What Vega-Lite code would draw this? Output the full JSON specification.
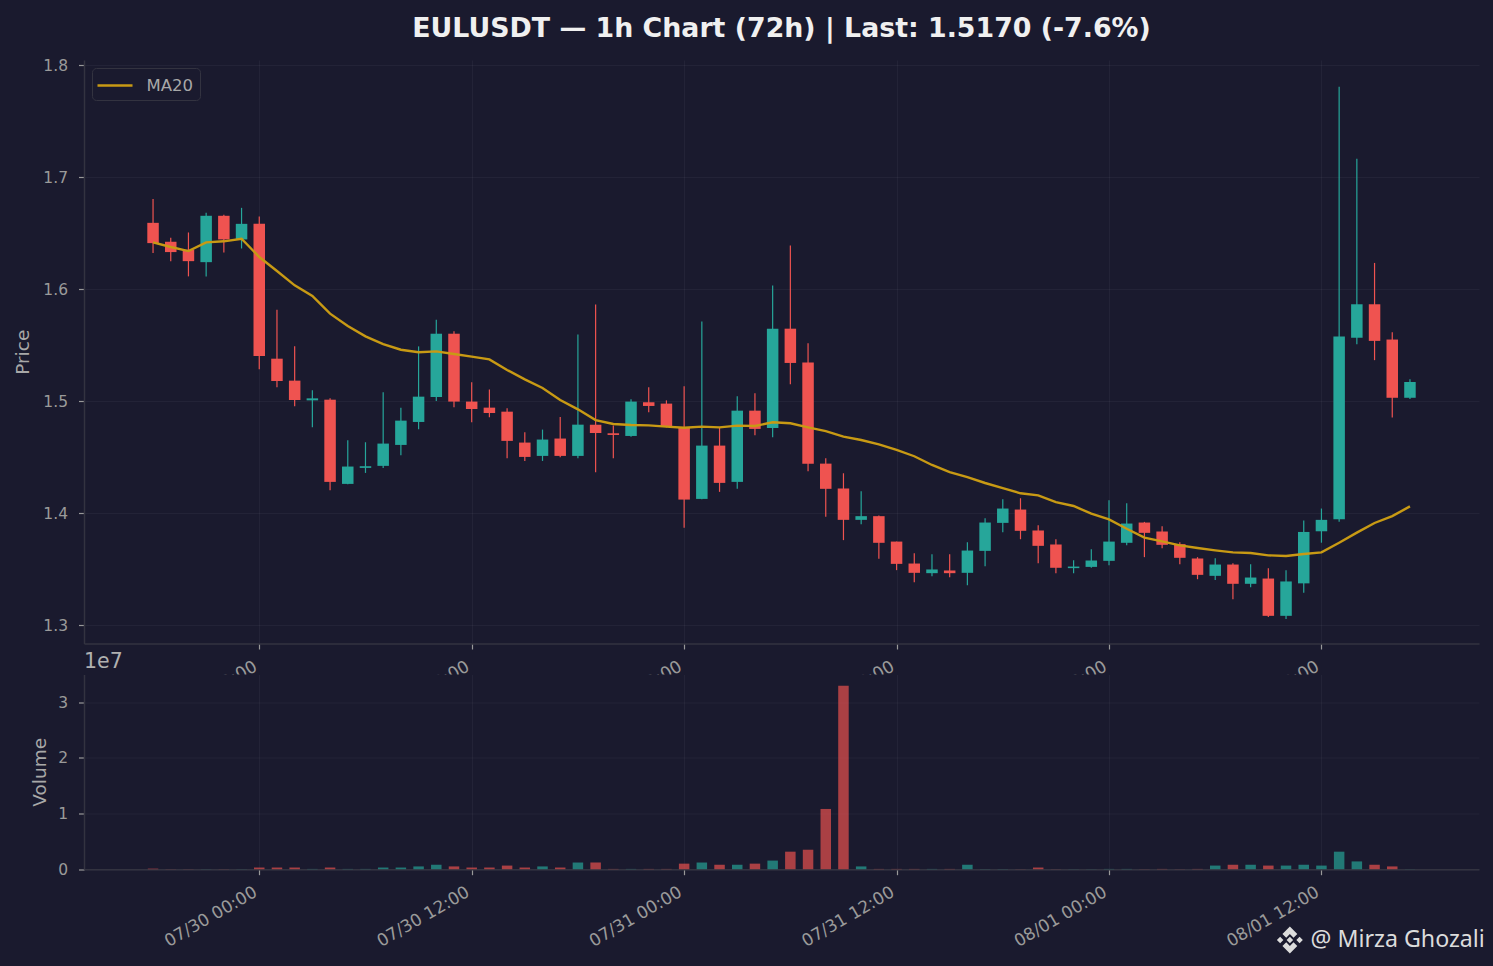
{"$schema":"https://vega.github.io/schema/vega-lite/v6.json","background":"#1a1a2e","padding":{"left":13,"top":16,"right":8,"bottom":14},"bounds":"flush","spacing":30.5,"config":{"font":"DejaVu Sans","view":{"stroke":null},"axis":{"gridColor":"#ffffff","gridOpacity":0.045,"gridWidth":1,"domainColor":"#333340","domainWidth":1.5,"tickColor":"#999999","tickSize":5.5,"tickWidth":1.2,"labelColor":"#9a9a9a","labelFontSize":15.5,"titleColor":"#a8a8a8","titleFontSize":18.5,"titleFontWeight":"normal"}},"title":{"text":"EULUSDT — 1h Chart (72h) | Last: 1.5170 (-7.6%)","fontSize":26.8,"fontWeight":"bold","color":"#f0f0f0","anchor":"middle","frame":"group","offset":15},"datasets":{"candles":[
{"t":"2025-07-29T18:00Z","o":1.6591,"h":1.6805,"l":1.6321,"c":1.641,"v":100000,"ma":1.6417,"dir":"down"},
{"t":"2025-07-29T19:00Z","o":1.6422,"h":1.6458,"l":1.6249,"c":1.633,"v":20000,"ma":1.6375,"dir":"down"},
{"t":"2025-07-29T20:00Z","o":1.6351,"h":1.6505,"l":1.6113,"c":1.6249,"v":20000,"ma":1.6339,"dir":"down"},
{"t":"2025-07-29T21:00Z","o":1.624,"h":1.6681,"l":1.6113,"c":1.6654,"v":20000,"ma":1.6417,"dir":"up"},
{"t":"2025-07-29T22:00Z","o":1.6654,"h":1.6663,"l":1.6327,"c":1.6443,"v":20000,"ma":1.6426,"dir":"down"},
{"t":"2025-07-29T23:00Z","o":1.6443,"h":1.6725,"l":1.6362,"c":1.6582,"v":20000,"ma":1.6449,"dir":"up"},
{"t":"2025-07-30T00:00Z","o":1.6582,"h":1.6648,"l":1.5283,"c":1.5402,"v":300000,"ma":1.6286,"dir":"down"},
{"t":"2025-07-30T01:00Z","o":1.5378,"h":1.5815,"l":1.5122,"c":1.5179,"v":300000,"ma":1.6161,"dir":"down"},
{"t":"2025-07-30T02:00Z","o":1.5182,"h":1.5488,"l":1.4953,"c":1.5009,"v":300000,"ma":1.6033,"dir":"down"},
{"t":"2025-07-30T03:00Z","o":1.5006,"h":1.5096,"l":1.4766,"c":1.5024,"v":50000,"ma":1.5938,"dir":"up"},
{"t":"2025-07-30T04:00Z","o":1.5012,"h":1.5024,"l":1.4204,"c":1.4278,"v":300000,"ma":1.578,"dir":"down"},
{"t":"2025-07-30T05:00Z","o":1.426,"h":1.465,"l":1.4257,"c":1.4415,"v":50000,"ma":1.567,"dir":"up"},
{"t":"2025-07-30T06:00Z","o":1.4403,"h":1.4632,"l":1.4358,"c":1.4418,"v":50000,"ma":1.5577,"dir":"up"},
{"t":"2025-07-30T07:00Z","o":1.4421,"h":1.5078,"l":1.4403,"c":1.462,"v":300000,"ma":1.5509,"dir":"up"},
{"t":"2025-07-30T08:00Z","o":1.4608,"h":1.4941,"l":1.4516,"c":1.4825,"v":300000,"ma":1.5458,"dir":"up"},
{"t":"2025-07-30T09:00Z","o":1.4813,"h":1.5488,"l":1.4748,"c":1.5039,"v":500000,"ma":1.5435,"dir":"up"},
{"t":"2025-07-30T10:00Z","o":1.5036,"h":1.5726,"l":1.5001,"c":1.5601,"v":800000,"ma":1.5443,"dir":"up"},
{"t":"2025-07-30T11:00Z","o":1.5601,"h":1.5622,"l":1.4944,"c":1.4995,"v":500000,"ma":1.542,"dir":"down"},
{"t":"2025-07-30T12:00Z","o":1.4995,"h":1.5167,"l":1.481,"c":1.4929,"v":300000,"ma":1.5396,"dir":"down"},
{"t":"2025-07-30T13:00Z","o":1.4941,"h":1.5102,"l":1.4855,"c":1.4893,"v":300000,"ma":1.5372,"dir":"down"},
{"t":"2025-07-30T14:00Z","o":1.4905,"h":1.4935,"l":1.4489,"c":1.4644,"v":650000,"ma":1.5277,"dir":"down"},
{"t":"2025-07-30T15:00Z","o":1.4629,"h":1.4721,"l":1.4465,"c":1.4501,"v":300000,"ma":1.5193,"dir":"down"},
{"t":"2025-07-30T16:00Z","o":1.451,"h":1.4745,"l":1.4465,"c":1.4656,"v":500000,"ma":1.5116,"dir":"up"},
{"t":"2025-07-30T17:00Z","o":1.4665,"h":1.4858,"l":1.4498,"c":1.451,"v":300000,"ma":1.5009,"dir":"down"},
{"t":"2025-07-30T18:00Z","o":1.451,"h":1.5595,"l":1.4489,"c":1.4789,"v":1200000,"ma":1.4926,"dir":"up"},
{"t":"2025-07-30T19:00Z","o":1.4789,"h":1.5863,"l":1.4364,"c":1.4715,"v":1200000,"ma":1.483,"dir":"down"},
{"t":"2025-07-30T20:00Z","o":1.4712,"h":1.4781,"l":1.4489,"c":1.4697,"v":50000,"ma":1.4795,"dir":"down"},
{"t":"2025-07-30T21:00Z","o":1.4688,"h":1.5015,"l":1.4682,"c":1.4995,"v":50000,"ma":1.4786,"dir":"up"},
{"t":"2025-07-30T22:00Z","o":1.4989,"h":1.5122,"l":1.4899,"c":1.4956,"v":50000,"ma":1.4783,"dir":"down"},
{"t":"2025-07-30T23:00Z","o":1.4977,"h":1.5006,"l":1.4765,"c":1.4769,"v":50000,"ma":1.4771,"dir":"down"},
{"t":"2025-07-31T00:00Z","o":1.4763,"h":1.5131,"l":1.3868,"c":1.412,"v":1000000,"ma":1.4762,"dir":"down"},
{"t":"2025-07-31T01:00Z","o":1.4126,"h":1.5711,"l":1.4124,"c":1.4602,"v":1200000,"ma":1.4771,"dir":"up"},
{"t":"2025-07-31T02:00Z","o":1.4602,"h":1.4763,"l":1.4189,"c":1.4269,"v":800000,"ma":1.4765,"dir":"down"},
{"t":"2025-07-31T03:00Z","o":1.4278,"h":1.5042,"l":1.4216,"c":1.4914,"v":800000,"ma":1.478,"dir":"up"},
{"t":"2025-07-31T04:00Z","o":1.4914,"h":1.5069,"l":1.4694,"c":1.4751,"v":1000000,"ma":1.4777,"dir":"down"},
{"t":"2025-07-31T05:00Z","o":1.476,"h":1.6032,"l":1.4676,"c":1.5646,"v":1550000,"ma":1.481,"dir":"up"},
{"t":"2025-07-31T06:00Z","o":1.5646,"h":1.6389,"l":1.5149,"c":1.534,"v":3150000,"ma":1.4801,"dir":"down"},
{"t":"2025-07-31T07:00Z","o":1.5343,"h":1.5515,"l":1.4373,"c":1.4439,"v":3500000,"ma":1.4765,"dir":"down"},
{"t":"2025-07-31T08:00Z","o":1.4441,"h":1.4489,"l":1.3966,"c":1.4216,"v":10830000,"ma":1.4732,"dir":"down"},
{"t":"2025-07-31T09:00Z","o":1.4219,"h":1.4355,"l":1.3758,"c":1.3939,"v":33000000,"ma":1.4682,"dir":"down"},
{"t":"2025-07-31T10:00Z","o":1.3939,"h":1.4195,"l":1.39,"c":1.3972,"v":500000,"ma":1.4652,"dir":"up"},
{"t":"2025-07-31T11:00Z","o":1.3972,"h":1.3977,"l":1.3591,"c":1.3734,"v":50000,"ma":1.4613,"dir":"down"},
{"t":"2025-07-31T12:00Z","o":1.3745,"h":1.3745,"l":1.349,"c":1.3546,"v":50000,"ma":1.4563,"dir":"down"},
{"t":"2025-07-31T13:00Z","o":1.3549,"h":1.3641,"l":1.3383,"c":1.3466,"v":50000,"ma":1.4507,"dir":"down"},
{"t":"2025-07-31T14:00Z","o":1.3463,"h":1.3632,"l":1.3436,"c":1.3496,"v":50000,"ma":1.4429,"dir":"up"},
{"t":"2025-07-31T15:00Z","o":1.3487,"h":1.3632,"l":1.3427,"c":1.3463,"v":50000,"ma":1.4366,"dir":"down"},
{"t":"2025-07-31T16:00Z","o":1.3466,"h":1.374,"l":1.3356,"c":1.3665,"v":800000,"ma":1.4321,"dir":"up"},
{"t":"2025-07-31T17:00Z","o":1.3662,"h":1.3954,"l":1.3525,"c":1.3915,"v":30000,"ma":1.4268,"dir":"up"},
{"t":"2025-07-31T18:00Z","o":1.3912,"h":1.4123,"l":1.3829,"c":1.404,"v":30000,"ma":1.4223,"dir":"up"},
{"t":"2025-07-31T19:00Z","o":1.4031,"h":1.4132,"l":1.3766,"c":1.3841,"v":20000,"ma":1.4176,"dir":"down"},
{"t":"2025-07-31T20:00Z","o":1.3844,"h":1.3891,"l":1.3552,"c":1.3707,"v":300000,"ma":1.4158,"dir":"down"},
{"t":"2025-07-31T21:00Z","o":1.3719,"h":1.3766,"l":1.3463,"c":1.3511,"v":20000,"ma":1.4098,"dir":"down"},
{"t":"2025-07-31T22:00Z","o":1.3508,"h":1.3579,"l":1.3463,"c":1.3522,"v":20000,"ma":1.4063,"dir":"up"},
{"t":"2025-07-31T23:00Z","o":1.3519,"h":1.3677,"l":1.3511,"c":1.3576,"v":20000,"ma":1.3994,"dir":"up"},
{"t":"2025-08-01T00:00Z","o":1.3573,"h":1.4114,"l":1.3534,"c":1.3745,"v":50000,"ma":1.3943,"dir":"up"},
{"t":"2025-08-01T01:00Z","o":1.3734,"h":1.4087,"l":1.3713,"c":1.3906,"v":50000,"ma":1.386,"dir":"up"},
{"t":"2025-08-01T02:00Z","o":1.3915,"h":1.3921,"l":1.3606,"c":1.3823,"v":20000,"ma":1.378,"dir":"down"},
{"t":"2025-08-01T03:00Z","o":1.3835,"h":1.3882,"l":1.3686,"c":1.3716,"v":50000,"ma":1.3747,"dir":"down"},
{"t":"2025-08-01T04:00Z","o":1.3722,"h":1.374,"l":1.3543,"c":1.36,"v":20000,"ma":1.3711,"dir":"down"},
{"t":"2025-08-01T05:00Z","o":1.3594,"h":1.3606,"l":1.3409,"c":1.3448,"v":50000,"ma":1.3688,"dir":"down"},
{"t":"2025-08-01T06:00Z","o":1.3439,"h":1.3597,"l":1.3401,"c":1.354,"v":650000,"ma":1.3667,"dir":"up"},
{"t":"2025-08-01T07:00Z","o":1.354,"h":1.3552,"l":1.3231,"c":1.3368,"v":800000,"ma":1.3649,"dir":"down"},
{"t":"2025-08-01T08:00Z","o":1.3368,"h":1.3543,"l":1.3338,"c":1.3424,"v":800000,"ma":1.3643,"dir":"up"},
{"t":"2025-08-01T09:00Z","o":1.3415,"h":1.3508,"l":1.3071,"c":1.3082,"v":650000,"ma":1.3622,"dir":"down"},
{"t":"2025-08-01T10:00Z","o":1.3082,"h":1.349,"l":1.3053,"c":1.3389,"v":650000,"ma":1.3616,"dir":"up"},
{"t":"2025-08-01T11:00Z","o":1.3372,"h":1.3933,"l":1.3289,"c":1.3831,"v":800000,"ma":1.3634,"dir":"up"},
{"t":"2025-08-01T12:00Z","o":1.3837,"h":1.404,"l":1.3735,"c":1.3939,"v":650000,"ma":1.3649,"dir":"up"},
{"t":"2025-08-01T13:00Z","o":1.3945,"h":1.7807,"l":1.3923,"c":1.5577,"v":3150000,"ma":1.3735,"dir":"up"},
{"t":"2025-08-01T14:00Z","o":1.5565,"h":1.7163,"l":1.5506,"c":1.5864,"v":1400000,"ma":1.3825,"dir":"up"},
{"t":"2025-08-01T15:00Z","o":1.5864,"h":1.6233,"l":1.5365,"c":1.5537,"v":800000,"ma":1.3911,"dir":"down"},
{"t":"2025-08-01T16:00Z","o":1.5549,"h":1.5614,"l":1.4853,"c":1.5029,"v":500000,"ma":1.3973,"dir":"down"},
{"t":"2025-08-01T17:00Z","o":1.5029,"h":1.5195,"l":1.5017,"c":1.517,"v":20000,"ma":1.4059,"dir":"up"}
]},"vconcat":[
{"width":1395,"height":583.5,"data":{"name":"candles"},"encoding":{"x":{"field":"t","type":"temporal","scale":{"type":"utc","padding":0,"domain":["2025-07-29T14:06:00Z","2025-08-01T20:54:00Z"]},"axis":{"title":null,"values":[1753833600000,1753876800000,1753920000000,1753963200000,1754006400000,1754049600000],"format":"%m/%d %H:%M","labelAngle":-30,"labelAlign":"right","labelBaseline":"top","labelPadding":9,"labelOffset":-8,"labelFontSize":17}}},"layer":[
{"mark":{"type":"rule","strokeWidth":1.2},"encoding":{"y":{"field":"l","type":"quantitative","scale":{"domain":[1.2835,1.8045],"nice":false,"zero":false},"axis":{"title":"Price","values":[1.3,1.4,1.5,1.6,1.7,1.8],"format":".1f","labelPadding":11,"titlePadding":10.5}},"y2":{"field":"h"},"color":{"field":"dir","type":"nominal","scale":{"domain":["up","down"],"range":["#26a69a","#ef5350"]},"legend":null}}},
{"mark":{"type":"bar","width":11.5},"encoding":{"y":{"field":"o","type":"quantitative"},"y2":{"field":"c"},"color":{"field":"dir","type":"nominal","scale":{"domain":["up","down"],"range":["#26a69a","#ef5350"]},"legend":null}}},
{"mark":{"type":"line","strokeWidth":2.4},"encoding":{"y":{"field":"ma","type":"quantitative"},"stroke":{"datum":"MA20","type":"nominal","scale":{"domain":["MA20"],"range":["#c89a14"]},"legend":{"title":null,"orient":"top-left","offset":8,"fillColor":"#1a1a2e","strokeColor":"#333340","cornerRadius":4,"padding":6,"symbolType":"M-1.75,0 L1.75,0","symbolSize":400,"symbolOffset":5.5,"symbolStrokeWidth":2.5,"labelFontSize":16.5,"labelColor":"#a8a8a8","labelOffset":20}}}}
]},
{"width":1395,"height":194.7,"view":{"fill":"#1a1a2e","stroke":null},"title":{"text":"1e7","anchor":"start","frame":"group","fontSize":20.5,"fontWeight":"normal","color":"#b0b0b0","offset":2},"layer":[
{"data":{"name":"candles"},"mark":{"type":"bar","width":10.5,"opacity":0.68},"encoding":{"x":{"field":"t","type":"temporal","scale":{"type":"utc","padding":0,"domain":["2025-07-29T14:06:00Z","2025-08-01T20:54:00Z"]},"axis":{"title":null,"values":[1753833600000,1753876800000,1753920000000,1753963200000,1754006400000,1754049600000],"format":"%m/%d %H:%M","labelAngle":-30,"labelAlign":"right","labelBaseline":"top","labelPadding":9,"labelOffset":-8,"labelFontSize":17}},"y":{"field":"v","type":"quantitative","scale":{"domain":[0,35000000],"nice":false},"axis":{"title":"Volume","values":[0,10000000,20000000,30000000],"labelExpr":"datum.value/10000000","labelPadding":11,"titlePadding":8}},"color":{"field":"dir","type":"nominal","scale":{"domain":["up","down"],"range":["#26a69a","#ef5350"]},"legend":null}}},
{"data":{"values":[{"label":"@ Mirza Ghozali","t":"2025-08-01T11:23Z","v":-12730000}]},"mark":{"type":"text","align":"left","baseline":"middle","fontSize":23.2,"font":"Noto Sans","color":"#dcdcdc"},"encoding":{"x":{"field":"t","type":"temporal"},"y":{"field":"v","type":"quantitative"},"text":{"field":"label"}}},
{"data":{"values":[{"t":"2025-08-01T10:13Z","v":-12730000}]},"mark":{"type":"point","filled":true,"opacity":1,"color":"#dcdcdc","size":729,"shape":"M0,-1 L0.55,-0.45 L0.27,-0.17 L0,-0.44 L-0.27,-0.17 L-0.55,-0.45 Z M0,1 L0.55,0.45 L0.27,0.17 L0,0.44 L-0.27,0.17 L-0.55,0.45 Z M0,-0.24 L0.24,0 L0,0.24 L-0.24,0 Z M-0.72,-0.24 L-0.48,0 L-0.72,0.24 L-0.96,0 Z M0.72,-0.24 L0.96,0 L0.72,0.24 L0.48,0 Z"},"encoding":{"x":{"field":"t","type":"temporal"},"y":{"field":"v","type":"quantitative"}}}
]}
]}
